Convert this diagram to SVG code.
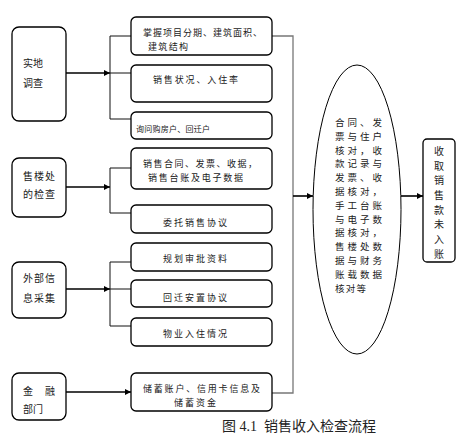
<svg xmlns="http://www.w3.org/2000/svg" width="463" height="443" viewBox="0 0 463 443">
<style>
.box{fill:#fff;stroke:#000;stroke-width:1.3}
.t{font-family:"Noto Sans CJK SC","Noto Sans",sans-serif;font-size:9px;fill:#222;dominant-baseline:central}
.tl{font-family:"Noto Sans CJK SC","Noto Sans",sans-serif;font-size:10px;fill:#222;dominant-baseline:central}
.te{font-family:"Noto Sans CJK SC","Noto Sans",sans-serif;font-size:9.5px;fill:#222;dominant-baseline:central}
.ln{fill:none;stroke:#111;stroke-width:1}
.ar{fill:none;stroke:#000;stroke-width:1.6}
.gr{fill:none;stroke:#777;stroke-width:1.3}
.cap{font-family:"Liberation Serif","Noto Sans CJK SC",serif;font-size:14px;fill:#222}
</style>
<defs>
<marker id="ah" viewBox="0 0 10 10" refX="10" refY="5" markerWidth="6" markerHeight="6" markerUnits="userSpaceOnUse" orient="auto">
<path d="M0,0 L10,5 L0,10 z" fill="#000"/>
</marker>
</defs>
<rect width="463" height="443" fill="#fff"/>

<g id="connectors">
<path class="ar" d="M66,73 H110" marker-end="url(#ah)"/>
<path class="ln" d="M131,36 H110 V119 H131 M110,73 H131"/>
<path class="ar" d="M66,187 H110" marker-end="url(#ah)"/>
<path class="ln" d="M131,168 H110 V213 H131"/>
<path class="ar" d="M66,289 H110" marker-end="url(#ah)"/>
<path class="ln" d="M131,262 H110 V326 H131 M110,289 H131"/>
<path class="ar" d="M66,392 H131" marker-end="url(#ah)"/>
<path class="gr" d="M272,36 H293 V393 H272"/>
<path class="ar" d="M293,196 H313" marker-end="url(#ah)"/>
<path class="ar" d="M401,196 H423" marker-end="url(#ah)"/>
</g>

<g id="n-shidi">
<rect class="box" x="12" y="27" width="54" height="94" rx="7"/>
<text class="tl" x="23" y="62" textLength="20" lengthAdjust="spacing">实地</text>
<text class="tl" x="23" y="82" textLength="20" lengthAdjust="spacing">调查</text>
</g>
<g id="n-shoulou">
<rect class="box" x="12" y="158" width="54" height="59" rx="7"/>
<text class="tl" x="23" y="175" textLength="32" lengthAdjust="spacing">售楼处</text>
<text class="tl" x="23" y="193" textLength="32" lengthAdjust="spacing">的检查</text>
</g>
<g id="n-waibu">
<rect class="box" x="12" y="262" width="54" height="56" rx="7"/>
<text class="tl" x="23" y="277" textLength="32" lengthAdjust="spacing">外部信</text>
<text class="tl" x="23" y="297" textLength="32" lengthAdjust="spacing">息采集</text>
</g>
<g id="n-jinrong">
<rect class="box" x="12" y="373" width="54" height="47" rx="7"/>
<text class="tl" x="23" y="390" textLength="32" lengthAdjust="spacing">金 融</text>
<text class="tl" x="23" y="408" textLength="20" lengthAdjust="spacing">部门</text>
</g>

<g id="b1">
<rect class="box" x="131" y="17" width="141" height="38" rx="5"/>
<text class="t" x="143" y="32" textLength="119" lengthAdjust="spacing">掌握项目分期、建筑面积、</text>
<text class="t" x="148" y="46" textLength="40" lengthAdjust="spacing">建筑结构</text>
</g>
<g id="b2">
<rect class="box" x="131" y="65" width="141" height="37" rx="5"/>
<text class="t" x="153" y="79" textLength="85" lengthAdjust="spacing">销售状况、入住率</text>
</g>
<g id="b3">
<rect class="box" x="131" y="112" width="141" height="27" rx="5"/>
<text class="t" x="136" y="128" style="font-size:8px" textLength="74" lengthAdjust="spacing">询问购房户、回迁户</text>
</g>
<g id="b4">
<rect class="box" x="131" y="148" width="141" height="41" rx="5"/>
<text class="t" x="143" y="163" textLength="114" lengthAdjust="spacing">销售合同、发票、收据，</text>
<text class="t" x="148" y="177" textLength="95" lengthAdjust="spacing">销售台账及电子数据</text>
</g>
<g id="b5">
<rect class="box" x="131" y="205" width="141" height="28" rx="5"/>
<text class="t" x="163" y="222" textLength="64" lengthAdjust="spacing">委托销售协议</text>
</g>
<g id="b6">
<rect class="box" x="131" y="243" width="141" height="28" rx="5"/>
<text class="t" x="163" y="258" textLength="64" lengthAdjust="spacing">规划审批资料</text>
</g>
<g id="b7">
<rect class="box" x="131" y="280" width="141" height="27" rx="5"/>
<text class="t" x="163" y="297" textLength="64" lengthAdjust="spacing">回迁安置协议</text>
</g>
<g id="b8">
<rect class="box" x="131" y="318" width="141" height="28" rx="5"/>
<text class="t" x="163" y="333" textLength="64" lengthAdjust="spacing">物业入住情况</text>
</g>
<g id="b9">
<rect class="box" x="131" y="373" width="141" height="38" rx="5"/>
<text class="t" x="143" y="388" textLength="117" lengthAdjust="spacing">储蓄账户、信用卡信息及</text>
<text class="t" x="174" y="402" textLength="42" lengthAdjust="spacing">储蓄资金</text>
</g>

<g id="ellipse">
<ellipse cx="357" cy="209.5" rx="44" ry="144.5" fill="#fff" stroke="#000" stroke-width="1"/>
<text class="te" x="335" y="122" textLength="47" lengthAdjust="spacing">合同、发</text>
<text class="te" x="335" y="135.8" textLength="47" lengthAdjust="spacing">票与住户</text>
<text class="te" x="335" y="149.6" textLength="47" lengthAdjust="spacing">核对，收</text>
<text class="te" x="335" y="163.4" textLength="47" lengthAdjust="spacing">款记录与</text>
<text class="te" x="335" y="177.2" textLength="47" lengthAdjust="spacing">发票、收</text>
<text class="te" x="335" y="191" textLength="47" lengthAdjust="spacing">据核对，</text>
<text class="te" x="335" y="204.8" textLength="47" lengthAdjust="spacing">手工台账</text>
<text class="te" x="335" y="218.6" textLength="47" lengthAdjust="spacing">与电子数</text>
<text class="te" x="335" y="232.4" textLength="47" lengthAdjust="spacing">据核对，</text>
<text class="te" x="335" y="246.2" textLength="47" lengthAdjust="spacing">售楼处数</text>
<text class="te" x="335" y="260" textLength="47" lengthAdjust="spacing">据与财务</text>
<text class="te" x="335" y="273.8" textLength="47" lengthAdjust="spacing">账载数据</text>
<text class="te" x="335" y="287.6" textLength="31" lengthAdjust="spacing">核对等</text>
</g>

<g id="n-result">
<rect class="box" x="423" y="139" width="32" height="123" rx="4"/>
<g class="tl" text-anchor="middle">
<text x="439" y="150">收</text>
<text x="439" y="165">取</text>
<text x="439" y="179">销</text>
<text x="439" y="194">售</text>
<text x="439" y="209">款</text>
<text x="439" y="223">未</text>
<text x="439" y="238">入</text>
<text x="439" y="253">账</text>
</g>
</g>

<text class="cap" x="222" y="431" xml:space="preserve">图 4.1  销售收入检查流程</text>
</svg>
